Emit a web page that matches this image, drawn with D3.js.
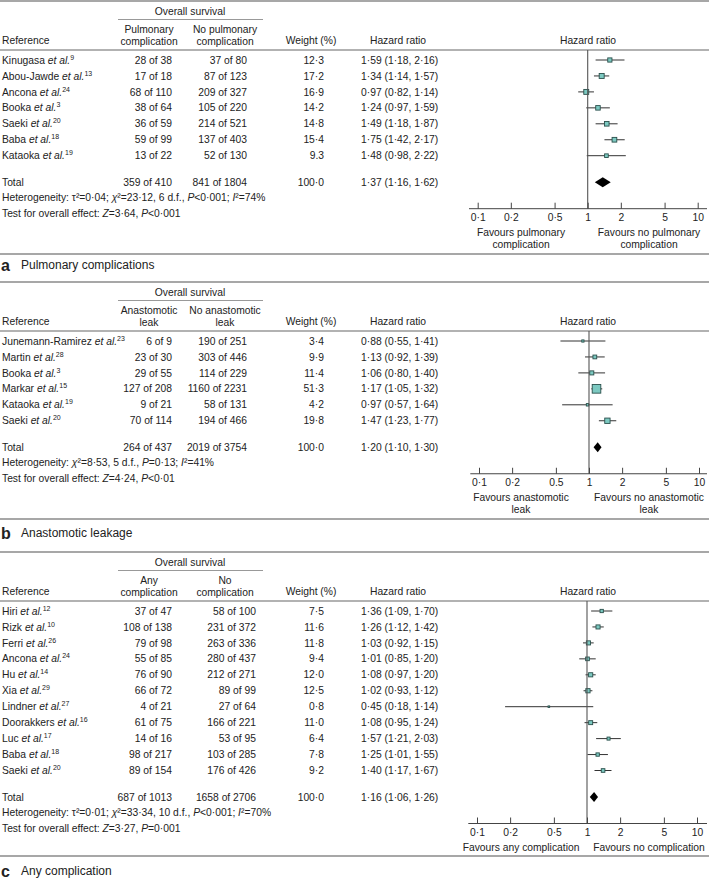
<!DOCTYPE html>
<html>
<head>
<meta charset="utf-8">
<script src="https://cdn.jsdelivr.net/npm/d3@7"></script>
<style>
body { margin: 0; background: #fff; }
svg text { font-family: "Liberation Sans", Arial, sans-serif; fill: #222; }
</style>
</head>
<body>
<div id="chart"></div>
<script>
// ---- panel a: pulmonary complications
const studiesA = ["Kinugasa", "Abou-Jawde", "Ancona", "Booka", "Saeki", "Baba", "Kataoka"];
const refsA = [9, 13, 24, 3, 20, 18, 19];
const ev1A = [28, 17, 68, 38, 36, 59, 13], n1A = [38, 18, 110, 64, 59, 99, 22];
const ev0A = [37, 87, 209, 105, 214, 137, 52], n0A = [80, 123, 327, 220, 521, 403, 130];
const weightA = [12.3, 17.2, 16.9, 14.2, 14.8, 15.4, 9.3];
const weightLabA = ["12·3", "17·2", "16·9", "14·2", "14·8", "15·4", "9.3"];
const hrA = [1.59, 1.34, 0.97, 1.24, 1.49, 1.75, 1.48];
const loA = [1.18, 1.14, 0.82, 0.97, 1.18, 1.42, 0.98];
const hiA = [2.16, 1.57, 1.14, 1.59, 1.87, 2.17, 2.22];
const totalA = {ev1: 359, n1: 410, ev0: 841, n0: 1804, hr: 1.37, lo: 1.16, hi: 1.62};

// ---- panel b: anastomotic leakage
const studiesB = ["Junemann-Ramirez", "Martin", "Booka", "Markar", "Kataoka", "Saeki"];
const refsB = [23, 28, 3, 15, 19, 20];
const ev1B = [6, 23, 29, 127, 9, 70], n1B = [9, 30, 55, 208, 21, 114];
const ev0B = [190, 303, 114, 1160, 58, 194], n0B = [251, 446, 229, 2231, 131, 466];
const weightB = [3.4, 9.9, 11.4, 51.3, 4.2, 19.8];
const weightLabB = ["3·4", "9·9", "11·4", "51·3", "4·2", "19·8"];
const hrB = [0.88, 1.13, 1.06, 1.17, 0.97, 1.47];
const loB = [0.55, 0.92, 0.80, 1.05, 0.57, 1.23];
const hiB = [1.41, 1.39, 1.40, 1.32, 1.64, 1.77];
const totalB = {ev1: 264, n1: 437, ev0: 2019, n0: 3754, hr: 1.20, lo: 1.10, hi: 1.30};

// ---- panel c: any complication
const studiesC = ["Hiri", "Rizk", "Ferri", "Ancona", "Hu", "Xia", "Lindner", "Doorakkers", "Luc", "Baba", "Saeki"];
const refsC = [12, 10, 26, 24, 14, 29, 27, 16, 17, 18, 20];
const ev1C = [37, 108, 79, 55, 76, 66, 4, 61, 14, 98, 89], n1C = [47, 138, 98, 85, 90, 72, 21, 75, 16, 217, 154];
const ev0C = [58, 231, 263, 280, 212, 89, 27, 166, 53, 103, 176], n0C = [100, 372, 336, 437, 271, 99, 64, 221, 95, 285, 426];
const weightC = [7.5, 11.6, 11.8, 9.4, 12.0, 12.5, 0.8, 11.0, 6.4, 7.8, 9.2];
const weightLabC = ["7·5", "11·6", "11·8", "9·4", "12·0", "12·5", "0·8", "11·0", "6·4", "7·8", "9·2"];
const hrC = [1.36, 1.26, 1.03, 1.01, 1.08, 1.02, 0.45, 1.08, 1.57, 1.25, 1.40];
const loC = [1.09, 1.12, 0.92, 0.85, 0.97, 0.93, 0.18, 0.95, 1.21, 1.01, 1.17];
const hiC = [1.70, 1.42, 1.15, 1.20, 1.20, 1.12, 1.14, 1.24, 2.03, 1.55, 1.67];
const totalC = {ev1: 687, n1: 1013, ev0: 1658, n0: 2706, hr: 1.16, lo: 1.06, hi: 1.26};

const tickVals = [0.1, 0.2, 0.5, 1, 2, 5, 10];
const tickLabA = ["0·1", "0·2", "0·5", "1", "2", "5", "10"];
const tickLabB = ["0·1", "0·2", "0.5", "1", "2", "5", "10"];
const tickLabC = ["0·1", "0·2", "0·5", "1", "2", "5", "10"];

const width = 709, height = 878;
const svg = d3.select("#chart").append("svg")
    .attr("width", width).attr("height", height);

const fmt = v => d3.format(".2f")(v).replace(".", "·");
const hrText = (h, l, u) => `${fmt(h)} (${fmt(l)}, ${fmt(u)})`;

// box side grows with sqrt of weight
const boxSize = d3.scaleSqrt().domain([0, 51.3]).range([0, 8.6]);

// text made of pieces: [string, "i" italic | "s" superscript]
function richText(g, x, y, segs, anchor) {
    const t = g.append("text").attr("x", x).attr("y", y + 3.6)
        .attr("font-size", 10.3).attr("text-anchor", anchor || "start");
    let raised = false;
    segs.forEach(([s, st]) => {
        const ts = t.append("tspan").text(s);
        if (st === "i") ts.attr("font-style", "italic");
        if (st === "s") {
            ts.attr("font-size", 7).attr("dy", raised ? 0 : -4);
            raised = true;
        } else if (raised) {
            ts.attr("dy", 4);
            raised = false;
        }
    });
    return t;
}

const panels = [
  {top: 1, sep: 254, labelY: 265, letter: "a", title: "Pulmonary complications", dx: 0, col2: 247,
   grp1: ["Pulmonary", "complication"], grp0: ["No pulmonary", "complication"],
   studies: studiesA, refs: refsA, ev1: ev1A, n1: n1A, ev0: ev0A, n0: n0A,
   w: weightA, wl: weightLabA, hr: hrA, lo: loA, hi: hiA, total: totalA, ticks: tickLabA,
   fav1: ["Favours pulmonary", "complication"], fav0: ["Favours no pulmonary", "complication"],
   het: [["Heterogeneity: τ²=0·04; "], ["χ", "i"], ["²=23·12, 6 d.f., "], ["P", "i"], ["<0·001; "], ["I", "i"], ["²=74%"]],
   test: [["Test for overall effect: "], ["Z", "i"], ["=3·64, "], ["P", "i"], ["<0·001"]]},
  {top: 282, sep: 519, labelY: 533, letter: "b", title: "Anastomotic leakage", dx: 1.3, col2: 247,
   grp1: ["Anastomotic", "leak"], grp0: ["No anastomotic", "leak"],
   studies: studiesB, refs: refsB, ev1: ev1B, n1: n1B, ev0: ev0B, n0: n0B,
   w: weightB, wl: weightLabB, hr: hrB, lo: loB, hi: hiB, total: totalB, ticks: tickLabB,
   fav1: ["Favours anastomotic", "leak"], fav0: ["Favours no anastomotic", "leak"],
   het: [["Heterogeneity: "], ["χ", "i"], ["²=8·53, 5 d.f., "], ["P", "i"], ["=0·13; "], ["I", "i"], ["²=41%"]],
   test: [["Test for overall effect: "], ["Z", "i"], ["=4·24, "], ["P", "i"], ["<0·01"]]},
  {top: 552, sep: 856, labelY: 871, letter: "c", title: "Any complication", dx: -0.7, col2: 256,
   grp1: ["Any", "complication"], grp0: ["No", "complication"],
   studies: studiesC, refs: refsC, ev1: ev1C, n1: n1C, ev0: ev0C, n0: n0C,
   w: weightC, wl: weightLabC, hr: hrC, lo: loC, hi: hiC, total: totalC, ticks: tickLabC,
   fav1: ["Favours any complication"], fav0: ["Favours no complication"],
   het: [["Heterogeneity: τ²=0·01; "], ["χ", "i"], ["²=33·34, 10 d.f., "], ["P", "i"], ["<0·001; "], ["I", "i"], ["²=70%"]],
   test: [["Test for overall effect: "], ["Z", "i"], ["=3·27, "], ["P", "i"], ["=0·001"]]}
];

panels.forEach(p => {
    const g = svg.append("g");
    const top = p.top;
    const headY = top + 49;
    const n = p.studies.length;
    const y = d3.scaleLinear().domain([0, n - 1]).range([headY + 10, headY + 10 + (n - 1) * 15.95]);
    const totalY = y(n - 1) + 26.5;
    const axisY = totalY + 26.5;
    const x = d3.scaleLog().domain([0.1, 10]).range([477.7 + p.dx, 697.7 + p.dx]);

    // rules
    g.append("line").attr("x1", 0).attr("x2", width).attr("y1", top).attr("y2", top)
        .attr("stroke", "#8a8a8a").attr("stroke-width", 1.6);
    g.append("line").attr("x1", 0).attr("x2", width).attr("y1", headY).attr("y2", headY)
        .attr("stroke", "#999").attr("stroke-width", 1.4);
    g.append("line").attr("x1", 0).attr("x2", width).attr("y1", p.sep).attr("y2", p.sep)
        .attr("stroke", "#8a8a8a").attr("stroke-width", 1.6);
    g.append("line").attr("x1", 118).attr("x2", 263).attr("y1", top + 18.5).attr("y2", top + 18.5)
        .attr("stroke", "#999").attr("stroke-width", 1);

    // headers
    richText(g, 190, top + 10, [["Overall survival"]], "middle");
    richText(g, 149, top + 28, [[p.grp1[0]]], "middle");
    richText(g, 149, top + 40, [[p.grp1[1]]], "middle");
    richText(g, 225, top + 28, [[p.grp0[0]]], "middle");
    richText(g, 225, top + 40, [[p.grp0[1]]], "middle");
    richText(g, 2, top + 39.5, [["Reference"]]);
    richText(g, 311, top + 39.5, [["Weight (%)"]], "middle");
    richText(g, 398, top + 39.5, [["Hazard ratio"]], "middle");
    richText(g, 588, top + 39.5, [["Hazard ratio"]], "middle");

    // study rows
    p.studies.forEach((s, i) => {
        const yy = y(i);
        richText(g, 2, yy, [[s + " "], ["et al.", "i"], [String(p.refs[i]), "s"]]);
        richText(g, 172, yy, [[`${p.ev1[i]} of ${p.n1[i]}`]], "end");
        richText(g, p.col2, yy, [[`${p.ev0[i]} of ${p.n0[i]}`]], "end");
        richText(g, 324, yy, [[p.wl[i]]], "end");
        richText(g, 361, yy, [[hrText(p.hr[i], p.lo[i], p.hi[i])]]);

        g.append("line").attr("x1", x(p.lo[i])).attr("x2", x(p.hi[i]))
            .attr("y1", yy).attr("y2", yy).attr("stroke", "#333").attr("stroke-width", 1);
        const b = Math.max(1.6, boxSize(p.w[i]));
        g.append("rect").attr("x", x(p.hr[i]) - b / 2).attr("y", yy - b / 2)
            .attr("width", b).attr("height", b)
            .attr("fill", "#7cc9c1").attr("stroke", "#2a4f4b").attr("stroke-width", 0.9);
    });

    // total
    const t = p.total;
    richText(g, 2, totalY, [["Total"]]);
    richText(g, 172, totalY, [[`${t.ev1} of ${t.n1}`]], "end");
    richText(g, p.col2, totalY, [[`${t.ev0} of ${t.n0}`]], "end");
    richText(g, 324, totalY, [["100·0"]], "end");
    richText(g, 361, totalY, [[hrText(t.hr, t.lo, t.hi)]]);
    g.append("path")
        .attr("d", d3.line()([[x(t.lo), totalY], [x(t.hr), totalY - 5], [x(t.hi), totalY], [x(t.hr), totalY + 5]]) + "Z")
        .attr("fill", "#000");

    richText(g, 2, totalY + 15, p.het);
    richText(g, 2, totalY + 31, p.test);

    // null line
    g.append("line").attr("x1", x(1)).attr("x2", x(1)).attr("y1", headY).attr("y2", axisY)
        .attr("stroke", "#555").attr("stroke-width", 1.1);

    // axis
    const ax = g.append("g").attr("transform", `translate(0,${axisY})`)
        .call(d3.axisBottom(x).tickValues(tickVals)
            .tickFormat((d, i) => p.ticks[i]).tickSize(-6).tickPadding(5));
    ax.select(".domain").remove();
    ax.selectAll("line").attr("stroke", "#444");
    ax.selectAll("text").attr("font-size", 10.3).attr("font-family", "Liberation Sans, Arial, sans-serif").attr("fill", "#222");
    g.append("line").attr("x1", 469 + p.dx).attr("x2", 707).attr("y1", axisY).attr("y2", axisY)
        .attr("stroke", "#444").attr("stroke-width", 1);

    p.fav1.forEach((s, k) => richText(g, 521, axisY + 24 + k * 12, [[s]], "middle"));
    p.fav0.forEach((s, k) => richText(g, 649, axisY + 24 + k * 12, [[s]], "middle"));

    // panel label
    g.append("text").attr("x", 1).attr("y", p.labelY + 5.5)
        .attr("font-size", 16).attr("font-weight", "bold").text(p.letter);
    g.append("text").attr("x", 21).attr("y", p.labelY + 4.3)
        .attr("font-size", 12).text(p.title);
});
</script>
</body>
</html>
